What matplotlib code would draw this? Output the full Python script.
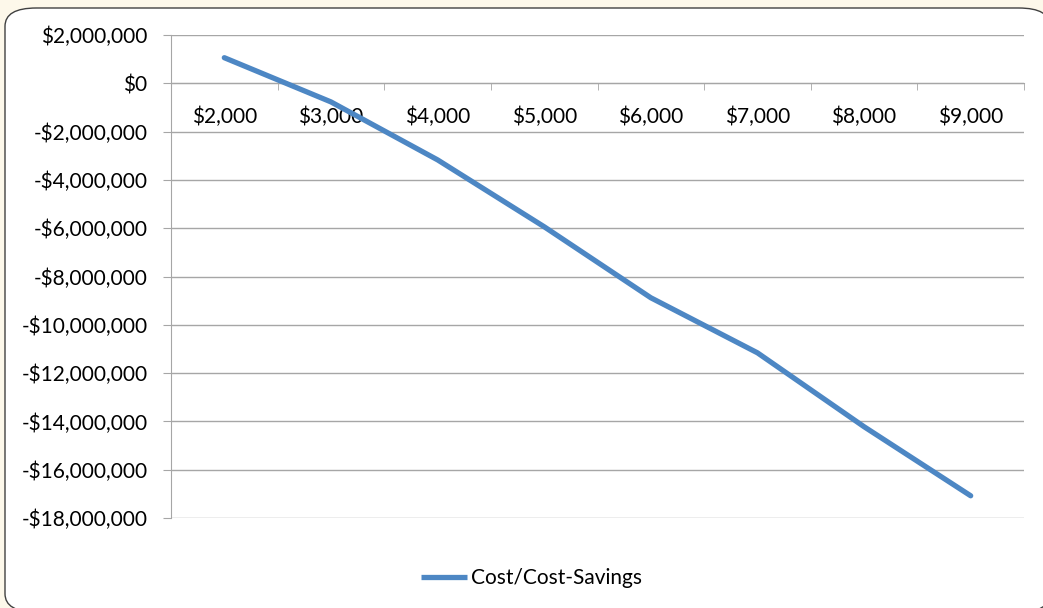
import numpy as np
import matplotlib.pyplot as plt
from matplotlib.patches import FancyBboxPatch
from matplotlib.ticker import FuncFormatter

# data
categories = ['$2,000', '$3,000', '$4,000', '$5,000', '$6,000', '$7,000', '$8,000', '$9,000']
savings = [1.06e6, -0.77e6, -3.17e6, -5.94e6, -8.88e6, -11.16e6, -14.22e6, -17.08e6]
y_ticks = np.arange(-18e6, 2e6 + 1, 2e6)

plt.rcParams['font.family'] = ['Lato', 'DejaVu Sans']

W, H = 1043, 608
fig = plt.figure(figsize=(W / 100, H / 100), dpi=100)
fig.patch.set_facecolor('#fdf8ea')

# white chart area with rounded border
box = FancyBboxPatch((5 / W, 1 - 612 / H), 1045 / W, 604 / H,
                     boxstyle='round,pad=0,rounding_size=0.03',
                     transform=fig.transFigure, facecolor='white',
                     edgecolor='#404040', linewidth=1.0, zorder=-10)
fig.patches.append(box)

ax = fig.add_axes([171 / W, 1 - 518 / H, (1024 - 171) / W, (518 - 35) / H])
ax.set_facecolor('none')

x = np.arange(len(categories))
line, = ax.plot(x, savings, color='#4d87c4', linewidth=3.8,
                solid_capstyle='round', solid_joinstyle='round',
                label='Cost/Cost-Savings', zorder=3)

ax.set_xlim(-0.5, len(categories) - 0.5)
ax.set_ylim(-18e6, 2e6)
ax.set_yticks(y_ticks)
ax.yaxis.set_major_formatter(FuncFormatter(
    lambda v, p: ('-$' if v < 0 else '$') + f'{abs(v):,.0f}'))
ax.grid(axis='y', color='#a6a6a6', linewidth=1.0)
ax.set_axisbelow(True)

for s in ['top', 'right']:
    ax.spines[s].set_visible(False)
ax.spines['left'].set_color('#a6a6a6')
ax.spines['bottom'].set_position(('data', 0))
ax.spines['bottom'].set_color('#a6a6a6')

ax.set_xticks(x)
ax.set_xticklabels(categories)
ax.set_xticks(np.arange(-0.5, len(categories)), minor=True)
ax.tick_params(axis='x', which='major', length=0, pad=17, labelsize=15, colors='#000000')
ax.tick_params(axis='x', which='minor', length=5, color='#a6a6a6', direction='out')
ax.tick_params(axis='y', length=6, color='#a6a6a6', pad=11, labelsize=15)

leg_line = plt.Line2D([], [], color='#4d87c4', linewidth=3.8, solid_capstyle='butt')
fig.legend(handles=[leg_line], labels=['Cost/Cost-Savings'], loc='center',
           bbox_to_anchor=(532 / W, 1 - 578 / H),
           frameon=False, fontsize=15, handlelength=2.2, handletextpad=0.2)

fig.savefig('out.png', dpi=100, facecolor=fig.get_facecolor())
